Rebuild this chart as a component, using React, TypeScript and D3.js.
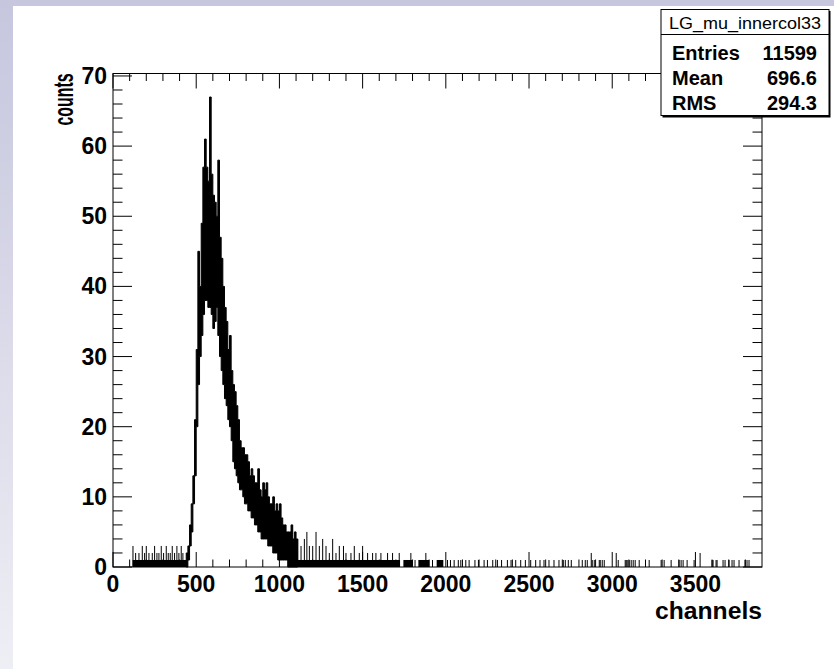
import React from "react";
import * as d3 from "d3";

// ---- axis / tick data ----
const xDomain = [0, 3900];
const yDomain = [0, 70.35];
const xMajorTicks = [0, 500, 1000, 1500, 2000, 2500, 3000, 3500];
const yMajorTicks = [0, 10, 20, 30, 40, 50, 60, 70];

// ---- histogram data ----
// dense peak region: 10-channel groups, max / min bin content in each group
const denseStart = 440;
const denseStep = 10;
const denseHi = [
  2, 3, 6, 9, 13, 21, 31, 45, 40, 49, 57, 61, 57, 55, 67, 56, 53, 52, 50, 58,
  47, 44, 40, 37, 35, 31, 33, 28, 26, 25, 23, 21, 18, 17, 17, 16, 16, 15, 13, 14,
  13, 12, 12, 14, 11, 10, 12, 11, 12, 10, 9, 9, 10, 8, 9, 8, 9, 7, 6, 6,
  5, 5, 5, 6, 4, 5, 4,
];
const denseLo = [
  0, 1, 3, 5, 9, 13, 20, 26, 30, 33, 36, 38, 38, 37, 37, 36, 34, 35, 37, 33,
  30, 28, 26, 24, 23, 21, 20, 18, 15, 14, 13, 12, 11, 11, 10, 9, 9, 8, 8, 7,
  7, 6, 6, 5, 5, 4, 4, 4, 4, 3, 3, 3, 2, 2, 2, 1, 1, 1, 1, 1,
  1, 0, 0, 0, 0, 0, 0,
];
// channel ranges where bins alternate between 0 and 1 (drawn as a filled band)
const bandStarts = [118, 1100, 1745, 1835, 1945];
const bandEnds = [445, 1725, 1800, 1900, 1985];
// isolated bins in the noise / tail (channel, content)
const spikeChannels = [
  120, 136, 156, 176, 190, 200, 216, 236, 250, 264, 276, 290, 304, 320, 332,
  344, 356, 370, 384, 396, 410, 420,
  1060, 1075, 1090, 1110, 1130, 1150, 1165, 1180, 1200, 1220, 1240, 1260, 1280,
  1300, 1320, 1340, 1360, 1385, 1400, 1430, 1450, 1480, 1500, 1530, 1560, 1580,
  1610, 1650, 1680, 1720, 1790, 1880,
  1815, 1920, 2010, 2028, 2050, 2075, 2090, 2120, 2140, 2175, 2196, 2230, 2250,
  2282, 2310, 2335, 2370, 2392, 2420, 2450, 2478, 2510, 2540, 2566, 2590, 2620,
  2650, 2680,
  2706, 2718, 2736, 2754, 2820, 2838, 2850, 2874, 2880, 2892, 2922, 2928, 2940,
  2952, 3024, 3036, 3078, 3084, 3090, 3102, 3114, 3126, 3138, 3162, 3222, 3294,
  3312, 3354, 3402, 3414, 3426, 3450, 3492, 3528, 3600, 3606, 3624, 3630, 3666,
  3678, 3702, 3720, 3732, 3762, 3798, 3810, 3822,
];
const spikeCounts = [
  3, 2, 2, 3, 2, 3, 2, 2, 3, 2, 2, 3, 2, 3, 2,
  2, 3, 2, 3, 2, 3, 2,
  4, 6, 3, 4, 3, 4, 5, 3, 3, 5, 3, 4, 3,
  2, 4, 2, 3, 3, 2, 2, 3, 2, 3, 2, 2, 2,
  2, 2, 2, 2, 2, 2,
  1, 1, 1, 1, 1, 1, 1, 1, 1, 1, 1, 1, 1,
  1, 1, 1, 1, 1, 1, 1, 1, 1, 1, 1, 1, 1,
  1, 1,
  1, 1, 1, 1, 1, 1, 1, 2, 1, 1, 1, 1, 1,
  1, 2, 1, 1, 1, 1, 1, 1, 1, 1, 1, 1, 1,
  1, 1, 1, 1, 1, 1, 1, 2, 1, 1, 1, 1, 1,
  1, 1, 1, 1, 1, 1, 1, 1,
];

// ---- stats box ----
const histName = "LG_mu_innercol33";
const statLabels = ["Entries", "Mean", "RMS"];
const statValues = ["11599", "696.6", "294.3"];

const W = 834;
const H = 669;
const FONT = "'Liberation Sans', Arial, Helvetica, sans-serif";

export default function App() {
  const x = d3.scaleLinear().domain(xDomain).range([113, 762]);
  const y = d3.scaleLinear().domain(yDomain).range([567, 73.5]);

  const xMinor = d3.range(0, 3900, 100).filter((v) => v % 500 !== 0);
  const yMinor = d3.range(0, 70.35, 2).filter((v) => v % 10 !== 0);

  const densePts = denseHi.map((hi, i) => ({
    c: denseStart + i * denseStep,
    hi,
    lo: denseLo[i],
  }));
  densePts.push({
    c: denseStart + denseHi.length * denseStep,
    hi: denseHi[denseHi.length - 1],
    lo: denseLo[denseLo.length - 1],
  });
  const denseArea = d3
    .area<{ c: number; hi: number; lo: number }>()
    .x((d) => x(d.c))
    .y0((d) => y(d.lo))
    .y1((d) => y(d.hi))
    .curve(d3.curveStepAfter);

  const bands = bandStarts.map((s, i) => ({ s, e: bandEnds[i] }));
  const spikes = spikeChannels.map((c, i) => ({ c, n: spikeCounts[i] }));

  const [fx0, fx1] = x.range();
  const [fy0, fy1] = y.range();

  return (
    <div style={{ position: "absolute", left: 0, top: 0 }}>
      <svg width={W} height={H} style={{ display: "block" }}>
        <defs>
          <linearGradient id="bg" x1="0" y1="0" x2="0" y2="1">
            <stop offset="0" stopColor="#c6c6de" />
            <stop offset="1" stopColor="#eeeef5" />
          </linearGradient>
        </defs>
        <rect x={0} y={0} width={W} height={H} fill="url(#bg)" />
        <rect x={13} y={6} width={W - 13} height={H - 6} fill="#fff" />

        {/* histogram */}
        <g>
          {bands.map((b, i) => (
            <rect
              key={"b" + i}
              x={x(b.s)}
              y={y(1)}
              width={x(b.e) - x(b.s)}
              height={y(0) - y(1)}
              fill="#000"
            />
          ))}
          {spikes.map((s, i) => (
            <line
              key={"s" + i}
              x1={x(s.c)}
              x2={x(s.c)}
              y1={y(0)}
              y2={y(s.n)}
              stroke="#000"
              strokeWidth={1}
            />
          ))}
          <path
            d={denseArea(densePts) || ""}
            fill="#000"
            stroke="#000"
            strokeWidth={1}
          />
        </g>

        {/* frame */}
        <rect
          x={fx0}
          y={fy1}
          width={fx1 - fx0}
          height={fy0 - fy1}
          fill="none"
          stroke="#000"
          strokeWidth={1}
        />

        {/* ticks */}
        <g stroke="#000" strokeWidth={1}>
          {xMajorTicks.map((v) => (
            <g key={"xm" + v}>
              <line x1={x(v)} x2={x(v)} y1={fy0} y2={fy0 - 15} />
              <line x1={x(v)} x2={x(v)} y1={fy1} y2={fy1 + 15} />
            </g>
          ))}
          {xMinor.map((v) => (
            <g key={"xn" + v}>
              <line x1={x(v)} x2={x(v)} y1={fy0} y2={fy0 - 7.5} />
              <line x1={x(v)} x2={x(v)} y1={fy1} y2={fy1 + 7.5} />
            </g>
          ))}
          {yMajorTicks.map((v) => (
            <g key={"ym" + v}>
              <line x1={fx0} x2={fx0 + 19} y1={y(v)} y2={y(v)} />
              <line x1={fx1} x2={fx1 - 19} y1={y(v)} y2={y(v)} />
            </g>
          ))}
          {yMinor.map((v) => (
            <g key={"yn" + v}>
              <line x1={fx0} x2={fx0 + 9.5} y1={y(v)} y2={y(v)} />
              <line x1={fx1} x2={fx1 - 9.5} y1={y(v)} y2={y(v)} />
            </g>
          ))}
        </g>

        {/* tick labels and titles */}
        <g fontFamily={FONT} fontWeight="bold" fontSize={23} fill="#000">
          {xMajorTicks.map((v) => (
            <text key={"xl" + v} x={x(v)} y={592} textAnchor="middle">
              {v}
            </text>
          ))}
          {yMajorTicks.map((v) => (
            <text key={"yl" + v} x={107} y={y(v) + 8} textAnchor="end">
              {v}
            </text>
          ))}
          <text
            x={fx1}
            y={619}
            textAnchor="end"
            textLength={107}
            lengthAdjust="spacingAndGlyphs"
          >
            channels
          </text>
          <text
            transform={`translate(73,${fy1}) rotate(-90)`}
            textAnchor="end"
            fontSize={27}
            textLength={52}
            lengthAdjust="spacingAndGlyphs"
          >
            counts
          </text>
        </g>

        {/* stats box */}
        <g>
          <rect x={662.5} y={11} width={168} height={106.5} fill="#000" />
          <rect x={661} y={9.5} width={168} height={106} fill="#fff" stroke="#000" strokeWidth={1} />
          <line x1={661} x2={829} y1={34.5} y2={34.5} stroke="#000" strokeWidth={1} />
          <text
            x={745}
            y={28.5}
            textAnchor="middle"
            fontFamily={FONT}
            fontSize={16.5}
            textLength={152}
            lengthAdjust="spacingAndGlyphs"
            fill="#000"
          >
            {histName}
          </text>
          {statLabels.map((l, i) => (
            <g key={l} fontFamily={FONT} fontWeight="bold" fontSize={20} fill="#000">
              <text x={672} y={60 + i * 25}>
                {l}
              </text>
              <text x={817} y={60 + i * 25} textAnchor="end">
                {statValues[i]}
              </text>
            </g>
          ))}
        </g>
      </svg>
    </div>
  );
}
